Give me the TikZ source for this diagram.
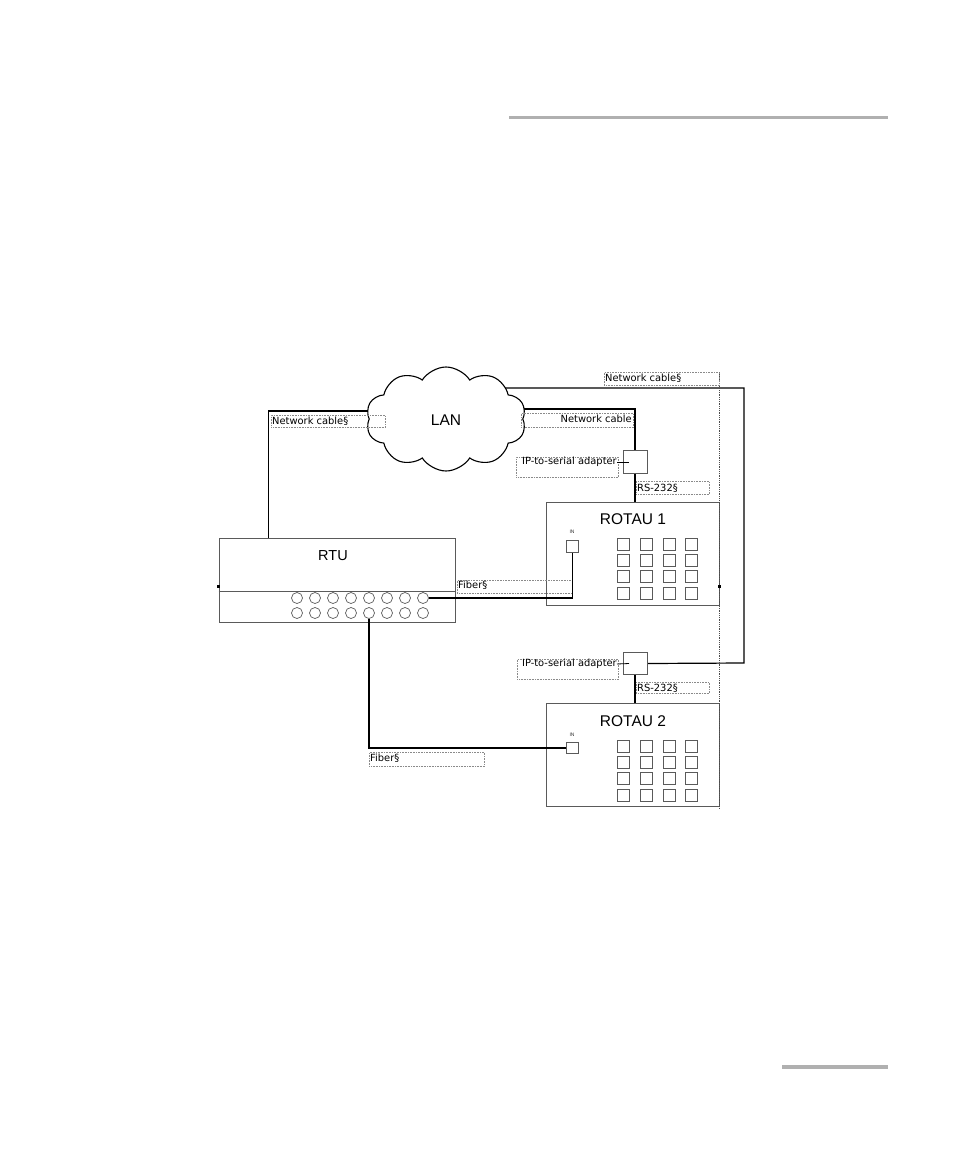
\documentclass[tikz,border=0pt]{standalone}
\usepackage{fontspec}
\setmainfont{Liberation Sans}
\newfontfamily\lblfont{DejaVu Sans}
\usetikzlibrary{shapes.symbols,calc}
\pgfdeclarelayer{bg}
\pgfsetlayers{bg,main}
\definecolor{boxgray}{HTML}{5A5A5A}
\definecolor{bargray}{HTML}{B0B0B0}
\definecolor{dotgray}{HTML}{8A8A8A}
\tikzset{
  wire/.style={line width=1.2pt, black},
  lblbox/.style={draw=dotgray, densely dotted, line width=0.6pt, inner sep=0pt, anchor=north west},
  lbltxt/.style={font=\lblfont\fontsize{9.9}{12}\selectfont, inner sep=0pt, text=black},
  devbox/.style={draw=boxgray, line width=0.8pt, inner sep=0pt},
  title/.style={font=\fontsize{15.5}{17}\selectfont, inner sep=0pt, text=black},
  port/.style={circle, draw=boxgray, line width=0.7pt, minimum size=11pt, inner sep=0pt},
  sq/.style={draw=boxgray, line width=0.7pt, minimum size=12pt, inner sep=0pt},
  inport/.style={draw=boxgray, line width=0.7pt, minimum size=11.5pt, inner sep=0pt},
  adapter/.style={draw=boxgray, line width=0.8pt, fill=white, minimum width=24pt, minimum height=22.5pt, inner sep=0pt},
  tiny/.style={font=\fontsize{5}{6}\selectfont, inner sep=0pt, text=black!80},
  bar/.style={fill=bargray, draw=none}
}
\begin{document}
\begin{tikzpicture}[x=1pt,y=-1pt]
\useasboundingbox (0,0) rectangle (954,1158);
% page bars
\fill[bargray] (509,116) rectangle (888,119.5);
\fill[bargray] (782,1065) rectangle (888,1068.5);

% cloud
\node[cloud, cloud puffs=10, cloud puff arc=115, aspect=1.6, draw=black, line width=1.1pt, fill=white,
      minimum width=160pt, minimum height=104pt, inner sep=0pt] (lan) at (446,419) {};
\node[title] at (446,420) {LAN};
\coordinate (lanL) at (385,411);
\coordinate (lanR1) at (495,388);
\coordinate (lanR2) at (505,409);

% RTU
\node[devbox, minimum width=236pt, minimum height=84pt] (rtu) at (337,580) {};
\draw[boxgray, line width=0.8pt] (rtu.west |- 0,591) -- (rtu.east |- 0,591);
\node[font=\fontsize{14.5}{16}\selectfont, inner sep=0pt, text=black] (rtut) at (333,556) {RTU};
\foreach \i in {1,...,8} {
  \node[port] (pt\i) at ({297+18*(\i-1)},598) {};
  \node[port] (pb\i) at ({297+18*(\i-1)},613) {};
}
\fill[black] (217,584.5) rectangle (219.5,588);

% ROTAU 1
\node[devbox, minimum width=173pt, minimum height=103pt, anchor=north west] (r1) at (546,502) {};
\node[title] at (633,519) {ROTAU 1};
\node[tiny] at (572,532) {IN};
\node[inport] (in1) at (572.5,546.5) {};
\foreach \c/\x in {1/623,2/646,3/669,4/691} {
  \foreach \r/\y in {1/544,2/560,3/576,4/593} {
    \node[sq] (a\c\r) at (\x,\y) {};
  }
}

% ROTAU 2
\node[devbox, minimum width=173pt, minimum height=103pt, anchor=north west] (r2) at (546,703) {};
\node[title] at (633,721) {ROTAU 2};
\node[tiny] at (572,735) {IN};
\node[inport] (in2) at (572.5,748) {};
\foreach \c/\x in {1/623,2/646,3/669,4/691} {
  \foreach \r/\y in {1/746,2/762,3/778,4/795} {
    \node[sq] (b\c\r) at (\x,\y) {};
  }
}

% dotted right guide
\coordinate (gtop) at (719,372);
\coordinate (gbot) at (719,808);
\draw[black!70, densely dotted, line width=0.8pt] (gtop) -- (gbot);
\fill[black] (718,584.5) rectangle (721,588);

% adapters
\node[adapter] (ad1) at (635,462) {};
\node[adapter] (ad2) at (635,663.5) {};

% labels
\node[lblbox, minimum width=114pt, minimum height=12pt] (nclb) at (271,415) {};
\node[lbltxt, anchor=west] (nclt) at (272,421) {Network cable§};
\node[lblbox, minimum width=115pt, minimum height=13pt] (nctb) at (604,372) {};
\node[lbltxt, anchor=west] (nctt) at (605,378) {Network cable§};
\node[lblbox, minimum width=112pt, minimum height=14pt] (nc2b) at (521,413) {};
\node[lbltxt, anchor=east] (nc2t) at (632,418.5) {Network cable};
\node[lblbox, minimum width=102pt, minimum height=20pt] (ip1b) at (516,457) {};
\node[lbltxt, anchor=east] (ip1t) at (617,462) {IP-to-serial adapter};
\node[lblbox, minimum width=73pt, minimum height=13pt] (rs1b) at (636,481) {};
\node[lbltxt, anchor=west] (rs1t) at (637,488) {RS-232§};
\node[lblbox, minimum width=115pt, minimum height=13pt] (fb1b) at (457,580) {};
\node[lbltxt, anchor=west] (fb1t) at (458,585) {Fiber§};
\node[lblbox, minimum width=101pt, minimum height=20pt] (ip2b) at (517,659) {};
\node[lbltxt, anchor=east] (ip2t) at (617,664) {IP-to-serial adapter};
\node[lblbox, minimum width=73pt, minimum height=11pt] (rs2b) at (636,682) {};
\node[lbltxt, anchor=west] (rs2t) at (637,688) {RS-232§};
\node[lblbox, minimum width=115pt, minimum height=14pt] (fb2b) at (369,752) {};
\node[lbltxt, anchor=west] (fb2t) at (370,758) {Fiber§};

% connectors (behind cloud)
\begin{pgfonlayer}{bg}
\draw[wire] ([xshift=50pt]rtu.north west) |- (lanL);
\draw[wire] (lanR1) -| (744,663) -- (ad2.east);
\draw[wire] (lanR2) -| (ad1.north);
\end{pgfonlayer}
\draw[wire] (ad1.south) -- (ad1.south |- r1.north);
\draw[wire] (ad2.south) -- (ad2.south |- r2.north);
\draw[black, line width=0.8pt] (ip1t.east) -- ([xshift=-6pt]ad1.center);
\draw[black, line width=0.8pt] (ip2t.east) -- ([xshift=-6pt]ad2.center);
\draw[wire] (pt8.east) -| (in1.south);
\draw[wire] (pb5.south) |- (in2.west);
\end{tikzpicture}
\end{document}
